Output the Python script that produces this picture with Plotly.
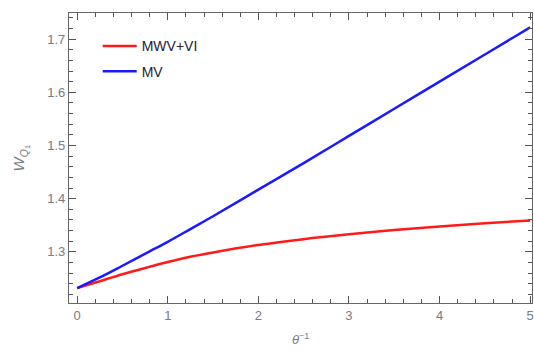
import plotly.graph_objects as go

x_vals = [0, 0.25, 0.5, 0.8, 1, 1.25, 1.5, 2, 2.5, 3, 3.5, 4, 4.5, 5]
mwv_vi = [1.232, 1.245, 1.258, 1.272, 1.281, 1.291, 1.299, 1.313, 1.324, 1.333, 1.341, 1.348, 1.354, 1.359]
mv = [1.232, 1.252, 1.274, 1.301, 1.319, 1.343, 1.367, 1.417, 1.467, 1.518, 1.569, 1.620, 1.671, 1.722]

x_tick_start, x_tick_step = 0, 1
y_tick_start, y_tick_step = 1.3, 0.1

fig = go.Figure()
fig.add_trace(go.Scatter(x=x_vals, y=mwv_vi, mode="lines", name="MWV+VI",
                         line=dict(color="#ff1a1a", width=2.5, shape="spline"),
                         legendgroup="a"))
fig.add_trace(go.Scatter(x=x_vals, y=mv, mode="lines", name="MV",
                         line=dict(color="#1a1aff", width=2.5, shape="spline"),
                         legendgroup="b"))

axis_common = dict(
    showgrid=False, zeroline=False, showline=True, linecolor="#666666", linewidth=1.3,
    mirror="ticks", ticks="inside", ticklen=7, tickwidth=1.3, tickcolor="#555555",
    automargin=False,
    tickfont=dict(family="Liberation Sans, Arial", size=13, color="#7a7a80"),
)

fig.update_xaxes(range=[-0.09, 5.02], tickmode="linear", tick0=x_tick_start, dtick=x_tick_step,
                 minor=dict(dtick=0.2, tick0=0, ticks="inside", ticklen=4, tickwidth=1.2,
                            tickcolor="#555555", showgrid=False),
                 **axis_common)
fig.update_yaxes(range=[1.204, 1.749], tickmode="linear", tick0=y_tick_start, dtick=y_tick_step,
                 tickformat=".1f",
                 minor=dict(dtick=0.02, tick0=1.2, ticks="inside", ticklen=4, tickwidth=1.2,
                            tickcolor="#555555", showgrid=False),
                 **axis_common)

fig.update_layout(
    width=534, height=354,
    margin=dict(l=69, r=2, t=13, b=51),
    paper_bgcolor="white", plot_bgcolor="white",
    showlegend=True,
    legend=dict(x=0.062, y=0.94, xanchor="left", yanchor="top", itemwidth=34,
                font=dict(family="Liberation Sans, Arial", size=14, color="#222233"),
                bgcolor="rgba(0,0,0,0)", tracegroupgap=4, traceorder="grouped"),
    annotations=[
        dict(text="<i>θ</i><sup>−1</sup>", x=0.5, y=-0.125, xref="paper", yref="paper",
             xanchor="center", yanchor="middle", showarrow=False,
             font=dict(family="Liberation Sans, Arial", size=13, color="#7a7a80")),
        dict(text="<i>W</i><sub><i>Q</i><sub>1</sub></sub>", x=-0.105, y=0.5, xref="paper", yref="paper",
             xanchor="center", yanchor="middle", showarrow=False, textangle=-90,
             font=dict(family="Liberation Sans, Arial", size=15, color="#7a7a80")),
    ],
)

fig.write_html("out.html", config={"displayModeBar": False},
               post_script="document.body.style.margin='0px';document.body.style.overflow='hidden';")
